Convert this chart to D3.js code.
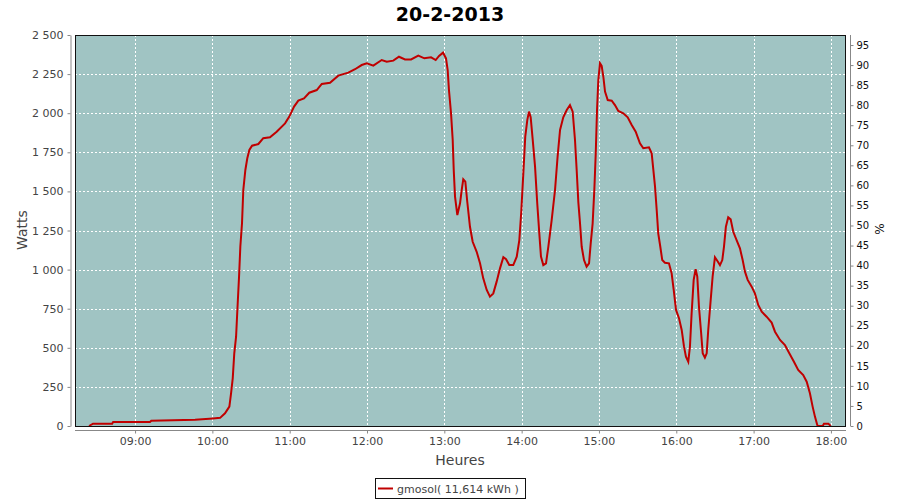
<!DOCTYPE html>
<html><head><meta charset="utf-8">
<script src="https://cdn.jsdelivr.net/npm/d3@7"></script>
<style>
body{margin:0;background:#fff;}
svg{display:block;font-family:"DejaVu Sans",sans-serif;}
</style></head>
<body><svg id="c" width="900" height="500"></svg>
<script>
// Time in minutes since midnight, power in watts
const times = [504.3,507.4,522.2,523,551.6,552.6,586.6,600.5,606,609.8,613.2,614.5,615.8,617,618.4,619.4,620.7,621.7,623,624,625.6,627.1,628.7,630.8,635.7,639.5,644.7,649.9,656.4,659.7,663.4,666.7,671.1,675.2,681,684.9,691.3,697.7,705.5,710.7,715.9,719.8,724.9,731.4,735.3,740.4,744.8,749.5,754.2,759.8,764.5,769.7,773.3,775.9,779,781.3,782.6,783.6,785.2,786.5,787.3,788.3,790.1,792.2,793.5,794.7,796.3,797.8,799.9,802,805.1,807.7,810.2,812.9,815.4,818,820.6,823.2,825.8,827.9,830.4,833.5,836.2,838.2,839.7,841.3,842.8,844.4,845.7,847,848.6,850.4,852.1,853.7,855,856.8,858.9,860.7,863.3,865.9,867.9,869.8,872.3,875,877.5,879.6,881.4,882.7,884,885.3,886.6,888.4,890.4,892.3,893.6,895.1,896.4,897.5,898.5,899.5,900.8,902.1,903.4,904.7,906.8,909.9,912.4,915,918.9,922.3,925.4,928.5,931.8,934.4,938.8,940.9,942.2,943.5,944.8,946,947.6,949.1,951.2,954.3,956.4,958,959.8,962.1,964.2,966,967.5,969.3,970.6,971.9,973.5,975,976.3,977.6,979.1,980.5,982.2,983.6,984.8,986.7,988.2,990,991.8,993.9,995.7,997,998.5,1000.3,1002.2,1004.2,1006.8,1009.4,1011.5,1013.3,1015.4,1018.5,1021,1023.6,1026.3,1030.1,1034,1036.6,1040.5,1044.3,1047.7,1051.3,1054.6,1058.5,1061.2,1063.7,1065.8,1067.6,1069.4,1070,1073.6,1074.6,1078,1079.8];
const watts = [0,15,15,26,26,34,40,48,52,81,124,209,305,465,571,742,955,1146,1296,1509,1637,1712,1765,1792,1803,1840,1846,1882,1935,1978,2042,2080,2095,2131,2148,2187,2195,2240,2259,2281,2308,2319,2304,2340,2329,2336,2361,2344,2344,2368,2351,2357,2340,2366,2387,2351,2276,2148,1999,1829,1637,1467,1349,1424,1509,1577,1562,1434,1274,1178,1114,1040,944,870,827,848,923,1008,1079,1066,1029,1029,1083,1189,1370,1615,1850,1957,2010,1974,1829,1658,1424,1232,1083,1029,1040,1146,1317,1509,1722,1893,1974,2020,2052,2010,1829,1637,1430,1296,1146,1061,1019,1040,1168,1296,1509,1744,2020,2212,2319,2302,2233,2138,2084,2080,2052,2014,1999,1974,1925,1882,1808,1776,1782,1744,1637,1530,1381,1232,1146,1061,1044,1040,976,870,742,689,614,507,443,411,507,720,934,1002,955,763,614,465,437,465,614,806,955,1079,1057,1029,1061,1146,1274,1334,1321,1242,1189,1136,1061,987,934,891,848,774,731,699,661,603,550,518,465,411,358,326,283,209,124,60,6,0,0,15,15,0];
const hourTicks = ["09:00","10:00","11:00","12:00","13:00","14:00","15:00","16:00","17:00","18:00"];
const wattTicks = [0,250,500,750,1000,1250,1500,1750,2000,2250,2500];
const pctTicks = [0,5,10,15,20,25,30,35,40,45,50,55,60,65,70,75,80,85,90,95];
const title = "20-2-2013";
const seriesName = "gmosol( 11,614 kWh )";

const svg = d3.select("#c");
const L=75,R=846,T=35,B=426;
const toMin = s => { const [h,m]=s.split(":").map(Number); return h*60+m; };
const x = d3.scaleLinear().domain([493.4,1091.7]).range([L,R]);
const y = d3.scaleLinear().domain([0,2500]).range([B,T]);
const y2 = d3.scaleLinear().domain([0,97.5]).range([B,T]);
const loc = d3.formatLocale({decimal:",",thousands:" ",grouping:[3],currency:["",""]});
const fmt = loc.format(",d");

// plot background
svg.append("rect").attr("x",L).attr("y",T).attr("width",R-L).attr("height",B-T).attr("fill","#a0c4c3");
// grid
const g = svg.append("g").attr("stroke","#fff").attr("stroke-dasharray","2,2").attr("stroke-width",1);
wattTicks.filter(v=>v>0&&v<2500).forEach(v=>g.append("line").attr("x1",L).attr("x2",R).attr("y1",Math.round(y(v))+0.5).attr("y2",Math.round(y(v))+0.5));
hourTicks.forEach(t=>g.append("line").attr("x1",Math.round(x(toMin(t)))+0.5).attr("x2",Math.round(x(toMin(t)))+0.5).attr("y1",T).attr("y2",B));

// line
const data = times.map((t,i)=>[t,watts[i]]);
svg.append("path").datum(data).attr("fill","none").attr("stroke","#c00000").attr("stroke-width",2)
  .attr("d",d3.line().x(d=>x(d[0])).y(d=>y(d[1])));

// outline
svg.append("rect").attr("x",L+0.5).attr("y",T+0.5).attr("width",R-L-1).attr("height",B-T).attr("fill","none").attr("stroke","#111");

// axes
const styleAxis = (sel,col)=>{ sel.select(".domain").attr("stroke","#888"); sel.selectAll(".tick line").attr("stroke","#888"); sel.selectAll("text").attr("fill",col); };
const ax = svg.append("g").attr("transform",`translate(0,${B+4.5})`)
  .call(d3.axisBottom(x).tickValues(hourTicks.map(toMin)).tickFormat((d,i)=>hourTicks[i]).tickSize(3).tickSizeOuter(0).tickPadding(4))
  .attr("font-size",11).attr("font-family","DejaVu Sans");
ax.select(".domain").attr("d",`M${L},0H${R}`);
styleAxis(ax,"#444");
const ay = svg.append("g").attr("transform",`translate(${L-4.5},0)`)
  .call(d3.axisLeft(y).tickValues(wattTicks).tickFormat(fmt).tickSize(3).tickSizeOuter(0).tickPadding(4))
  .attr("font-size",11).attr("font-family","DejaVu Sans");
styleAxis(ay,"#444");
const ay2 = svg.append("g").attr("transform",`translate(${R+4.5},0)`)
  .call(d3.axisRight(y2).tickValues(pctTicks).tickSize(3).tickSizeOuter(0).tickPadding(3))
  .attr("font-size",10).attr("font-family","DejaVu Sans");
ay2.select(".domain").attr("d",`M0,${T}V${B}`);
styleAxis(ay2,"#111");

// labels
svg.append("text").attr("x",450).attr("y",21).attr("text-anchor","middle").attr("font-weight","bold").attr("font-size",19).attr("fill","#000").text(title);
svg.append("text").attr("transform","translate(27,230) rotate(-90)").attr("text-anchor","middle").attr("font-size",14).attr("fill","#444").text("Watts");
svg.append("text").attr("x",460).attr("y",465).attr("text-anchor","middle").attr("font-size",14).attr("fill","#444").text("Heures");
svg.append("text").attr("transform","translate(884,229) rotate(-90)").attr("text-anchor","middle").attr("font-size",12).attr("fill","#111").text("%");

// legend
svg.append("rect").attr("x",375.5).attr("y",478.5).attr("width",150).attr("height",20).attr("fill","#fff").attr("stroke","#111");
svg.append("line").attr("x1",378).attr("x2",393).attr("y1",488.5).attr("y2",488.5).attr("stroke","#c00000").attr("stroke-width",2);
svg.append("text").attr("x",397).attr("y",492.5).attr("font-size",11).attr("fill","#444").text(seriesName);
</script></body></html>
